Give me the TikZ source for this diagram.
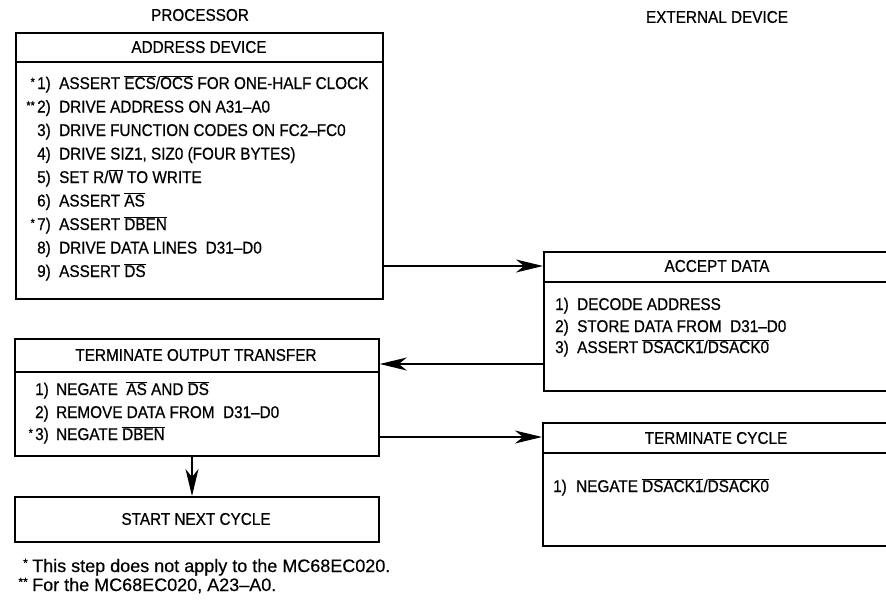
\documentclass[tikz,border=0pt]{standalone}
\usepackage{fontspec}
\setmainfont[FakeStretch=0.9,FakeBold=0.6]{Liberation Sans}
\newfontfamily\fnfont[FakeBold=0.4,Ligatures=TeX]{Liberation Sans}
\usetikzlibrary{arrows.meta}
\newcommand{\ovl}[1]{$\overline{\mbox{#1}}$}
\newcommand{\smstar}[1]{\raisebox{3pt}{\fontsize{12}{12}\selectfont #1}}
\begin{document}
\begin{tikzpicture}[x=1pt,y=-1pt,
  box/.style={draw, line width=1.8pt, rectangle, inner sep=0pt, anchor=north west},
  rulel/.style={line width=1.3pt},
  conn/.style={line width=1.2pt, -{Stealth[length=27pt,width=13pt,inset=8pt]}},
  txt/.style={anchor=base west, inner sep=0pt, font=\fontsize{17}{19}\selectfont},
  star/.style={anchor=base east, inner sep=0pt, font=\fontsize{17}{19}\selectfont},
  ttl/.style={inner sep=0pt, font=\fontsize{17}{19}\selectfont},
  fn/.style={anchor=base west, inner sep=0pt, font=\fnfont\fontsize{18}{21}\selectfont}]
\useasboundingbox (0,0) rectangle (886,613);
\clip (0,0) rectangle (886,613);

% headers
\node[ttl] (hproc) at (200,15) {PROCESSOR};
\node[ttl] (hext) at (717,17) {EXTERNAL DEVICE};

% processor box
\node[box, minimum width=367pt, minimum height=266pt] (proc) at (15,32) {};
\draw[rulel] (15,62) -- (382,62);
\node[ttl] (tproc) at (199,47) {ADDRESS DEVICE};
\node[star] (s1) at (35,89) {\smstar{*}};
\node[star] (s2) at (35,112.5) {\smstar{**}};
\node[star] (s7) at (35,230) {\smstar{*}};
\node[txt] (n1) at (37,89) {1)};
\node[txt] (n2) at (37,112.5) {2)};
\node[txt] (n3) at (37,136) {3)};
\node[txt] (n4) at (37,159.5) {4)};
\node[txt] (n5) at (37,183) {5)};
\node[txt] (n6) at (37,206.5) {6)};
\node[txt] (n7) at (37,230) {7)};
\node[txt] (n8) at (37,253.5) {8)};
\node[txt] (n9) at (37,277) {9)};
\node[txt] (l1) at (59,89) {ASSERT \ovl{ECS}/\ovl{OCS} FOR ONE-HALF CLOCK};
\node[txt] (l2) at (59,112.5) {DRIVE ADDRESS ON A31--A0};
\node[txt] (l3) at (59,136) {DRIVE FUNCTION CODES ON FC2--FC0};
\node[txt] (l4) at (59,159.5) {DRIVE SIZ1, SIZ0 (FOUR BYTES)};
\node[txt] (l5) at (59,183) {SET R/\ovl{W} TO WRITE};
\node[txt] (l6) at (59,206.5) {ASSERT \ovl{AS}};
\node[txt] (l7) at (59,230) {ASSERT \ovl{DBEN}};
\node[txt] (l8) at (59,253.5) {DRIVE DATA LINES\ \ D31--D0};
\node[txt] (l9) at (59,277) {ASSERT \ovl{DS}};

% terminate output transfer
\node[box, minimum width=364pt, minimum height=117pt] (term) at (14,338) {};
\draw[rulel] (14,372) -- (378,372);
\node[ttl] (tterm) at (196,355) {TERMINATE OUTPUT TRANSFER};
\node[star] (ts3) at (33,440) {\smstar{*}};
\node[txt] (tn1) at (35,395) {1)};
\node[txt] (tn2) at (35,418) {2)};
\node[txt] (tn3) at (35,440) {3)};
\node[txt] (tl1) at (56,395) {NEGATE\ \ \ovl{AS} AND \ovl{DS}};
\node[txt] (tl2) at (56,418) {REMOVE DATA FROM\ \ D31--D0};
\node[txt] (tl3) at (56,440) {NEGATE \ovl{DBEN}};

% start next cycle
\node[box, minimum width=364pt, minimum height=45pt] (start) at (14,496) {};
\node[ttl] (tstart) at (196,519) {START NEXT CYCLE};

% accept data
\node[box, minimum width=350pt, minimum height=139pt] (accept) at (543,251) {};
\draw[rulel] (543,282) -- (893,282);
\node[ttl] (tacc) at (717,266) {ACCEPT DATA};
\node[txt] (an1) at (555,310) {1)};
\node[txt] (an2) at (555,332) {2)};
\node[txt] (an3) at (555,353) {3)};
\node[txt] (al1) at (577,310) {DECODE ADDRESS};
\node[txt] (al2) at (577,332) {STORE DATA FROM\ \ D31--D0};
\node[txt] (al3) at (577,353) {ASSERT \ovl{DSACK1}/\ovl{DSACK0}};

% terminate cycle
\node[box, minimum width=351pt, minimum height=123pt] (tcyc) at (542,422) {};
\draw[rulel] (542,453) -- (893,453);
\node[ttl] (ttc) at (716,438) {TERMINATE CYCLE};
\node[txt] (cn1) at (553,492) {1)};
\node[txt] (cl1) at (576,492) {NEGATE \ovl{DSACK1}/\ovl{DSACK0}};

% connectors
\coordinate (ya) at (0,266);
\coordinate (yb) at (0,364);
\coordinate (yc) at (0,437);
\coordinate (xd) at (192,0);
\draw[conn] (proc.east |- ya) -- (accept.west |- ya);
\draw[conn] (accept.west |- yb) -- (term.east |- yb);
\draw[conn] (term.east |- yc) -- (tcyc.west |- yc);
\draw[conn] (term.south -| xd) -- (start.north -| xd);

% footnotes
\node[fn, anchor=base east] (f1s) at (28,570) {\smstar{*}};
\node[fn] (f1) at (32,572) {This step does not apply to the MC68EC020.};
\node[fn, anchor=base east] (f2s) at (28,589) {\smstar{**}};
\node[fn] (f2) at (32,591) {For the MC68EC020, A23--A0.};
\end{tikzpicture}
\end{document}
